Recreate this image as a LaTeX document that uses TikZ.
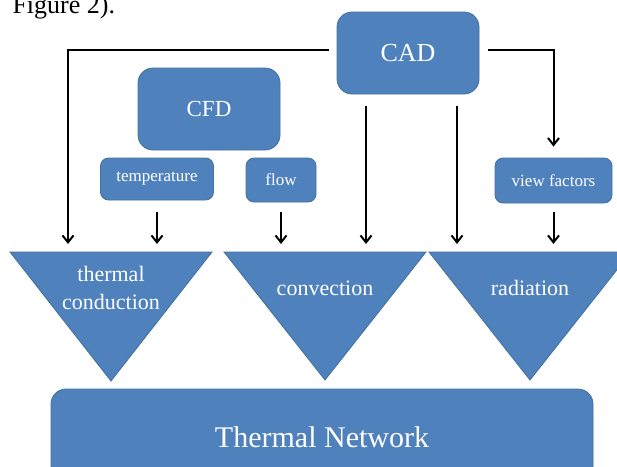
\documentclass[tikz,border=0pt]{standalone}
\usepackage{fontspec}
\setmainfont{Liberation Serif}
\usetikzlibrary{arrows.meta}
\definecolor{boxblue}{HTML}{4F81BD}
\definecolor{boxedge}{HTML}{41719C}
\tikzset{
  block/.style={draw=boxedge,fill=boxblue,line width=0.8pt,rounded corners=#1,text=white,inner sep=0pt},
  block/.default=8pt,
  funnel/.style={draw=boxedge,fill=boxblue,line width=0.8pt},
  funnel text/.style={text=white,align=center,font=\fontsize{22}{28}\selectfont},
  flowarrow/.style={line width=2pt,-{Straight Barb[length=7pt,width=11pt]}},
}

\begin{document}
\begin{tikzpicture}[x=1pt,y=-1pt]
  \useasboundingbox (0,0) rectangle (617,466);
  \clip (0,0) rectangle (617,466);
  \node[anchor=base west,font=\fontsize{26}{30}\selectfont] (caption) at (9,13) {Figure 2).};
  \node[block=15pt,minimum width=142pt,minimum height=82pt,font=\fontsize{26}{30}\selectfont] (cad) at (408,53) {CAD};
  \node[block=15pt,minimum width=142pt,minimum height=82pt,font=\fontsize{23}{28}\selectfont] (cfd) at (209,109) {CFD};
  \node[block,minimum width=113pt,minimum height=42pt,font=\fontsize{17}{20}\selectfont] (temp) at (157,179) {temperature};
  \node[block,minimum width=70pt,minimum height=44pt,font=\fontsize{17}{20}\selectfont] (flow) at (281,180) {flow};
  \node[block,minimum width=117pt,minimum height=45pt,font=\fontsize{17}{20}\selectfont] (view) at (553.5,180.5) {view factors};
  \draw[funnel] (10,252) -- (212,252) -- (111,381) -- cycle;
  \draw[funnel] (224,252) -- (426,252) -- (325,380) -- cycle;
  \draw[funnel] (429,252) -- (631,252) -- (530,380) -- cycle;
  \coordinate (cond-top) at (111,252);
  \coordinate (conv-top) at (325,252);
  \coordinate (rad-top) at (530,252);
  \coordinate (cond-in) at (68,244);
  \coordinate (conv-in) at (366,244);
  \coordinate (rad-in) at (457,244);
  \node[funnel text] (cond) at (111,288) {thermal\\conduction};
  \node[funnel text] (conv) at (325,288) {convection};
  \node[funnel text] (rad) at (530,288) {radiation};
  \node[block=15pt,minimum width=542pt,minimum height=96pt,font=\fontsize{30}{36}\selectfont] (net) at (322,437) {Thermal Network};
  \draw[flowarrow] ([xshift=-8pt,yshift=3pt]cad.west) -| (cond-in);
  \draw[flowarrow] ([xshift=9pt,yshift=3pt]cad.east) -| ([yshift=11pt]view.north);
  \draw[flowarrow] (cad.south -| conv-in) ++(0,12) -- (conv-in);
  \draw[flowarrow] (cad.south -| rad-in) ++(0,12) -- (rad-in);
  \draw[flowarrow] (temp.south) ++(0,12) -- ([yshift=8pt]temp.south |- cond-top);
  \draw[flowarrow] (flow.south) ++(0,10) -- ([yshift=8pt]flow.south |- conv-top);
  \draw[flowarrow] (view.south) ++(0,9) -- ([yshift=8pt]view.south |- rad-top);
\end{tikzpicture}
\end{document}
